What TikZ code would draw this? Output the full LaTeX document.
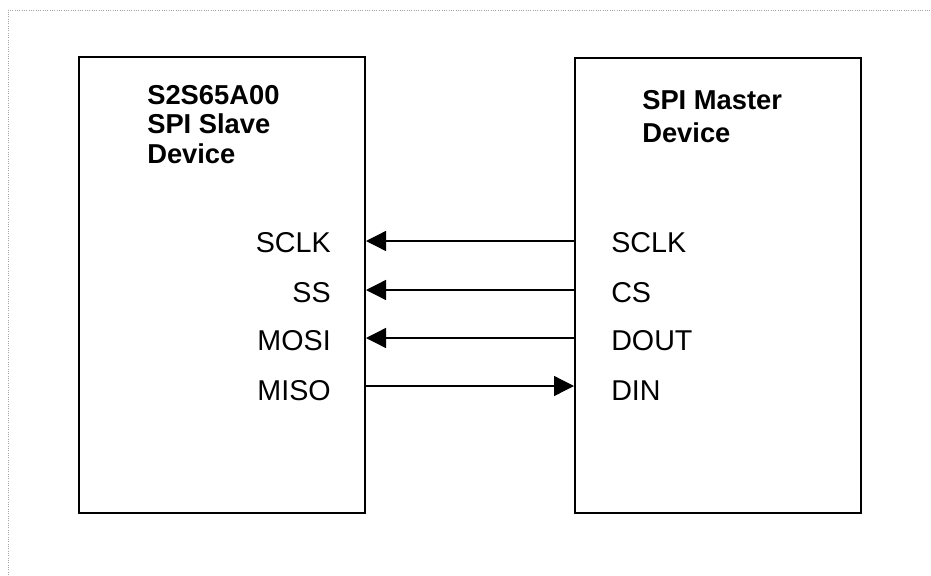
\documentclass[tikz,border=0pt]{standalone}
\usepackage{fontspec}
\setmainfont{Liberation Sans}
\usetikzlibrary{arrows.meta,positioning}

\begin{document}
\begin{tikzpicture}[x=0.75pt, y=-0.75pt,
    device/.style={draw, line width=1.5pt, inner sep=0pt,
        minimum width=214.5pt, minimum height=341.5pt},
    title/.style={anchor=north west, inner sep=0pt, align=left,
        font=\bfseries\fontsize{20.5}{22.1}\selectfont},
    pin/.style={inner sep=0pt, font=\fontsize{21.5}{24}\selectfont},
    sig/.style={line width=1pt, -{Triangle[length=15pt,width=15pt]}}]
    \useasboundingbox (0,0) rectangle (931,575);

    % page frame
    \draw[gray!70, densely dotted, line width=0.75pt] (8,575) -- (8,10) -- (931,10);

    % the two devices
    \node[device] (slave) at (222,285) {};
    \node[device] (master) at (718,285.5) {};

    \node[title] (slavename) at (147,85) {S2S65A00\\SPI Slave\\Device};
    \node[title, font=\bfseries\fontsize{20.5}{24.7}\selectfont] (mastername) at (642,90) {SPI Master\\Device};

    % signal rows
    \coordinate (rsclk) at (470,241);
    \coordinate (rss) at (470,290);
    \coordinate (rmosi) at (470,338);
    \coordinate (rmiso) at (470,386);

    % slave pins
    \node[pin, anchor=base east] (ssclk) at (331,252.5) {SCLK};
    \node[pin, anchor=base east] (sss) at (331,302) {SS};
    \node[pin, anchor=base east] (smosi) at (331,350) {MOSI};
    \node[pin, anchor=base east] (smiso) at (331,400) {MISO};

    % master pins
    \node[pin, anchor=base west] (msclk) at (611,252.5) {SCLK};
    \node[pin, anchor=base west] (mcs) at (611,302) {CS};
    \node[pin, anchor=base west] (mdout) at (611,350) {DOUT};
    \node[pin, anchor=base west] (mdin) at (611,400) {DIN};

    % connections
    \draw[sig] (master.west |- rsclk) -- (slave.east |- rsclk);
    \draw[sig] (master.west |- rss) -- (slave.east |- rss);
    \draw[sig] (master.west |- rmosi) -- (slave.east |- rmosi);
    \draw[sig] (slave.east |- rmiso) -- (master.west |- rmiso);
\end{tikzpicture}
\end{document}
